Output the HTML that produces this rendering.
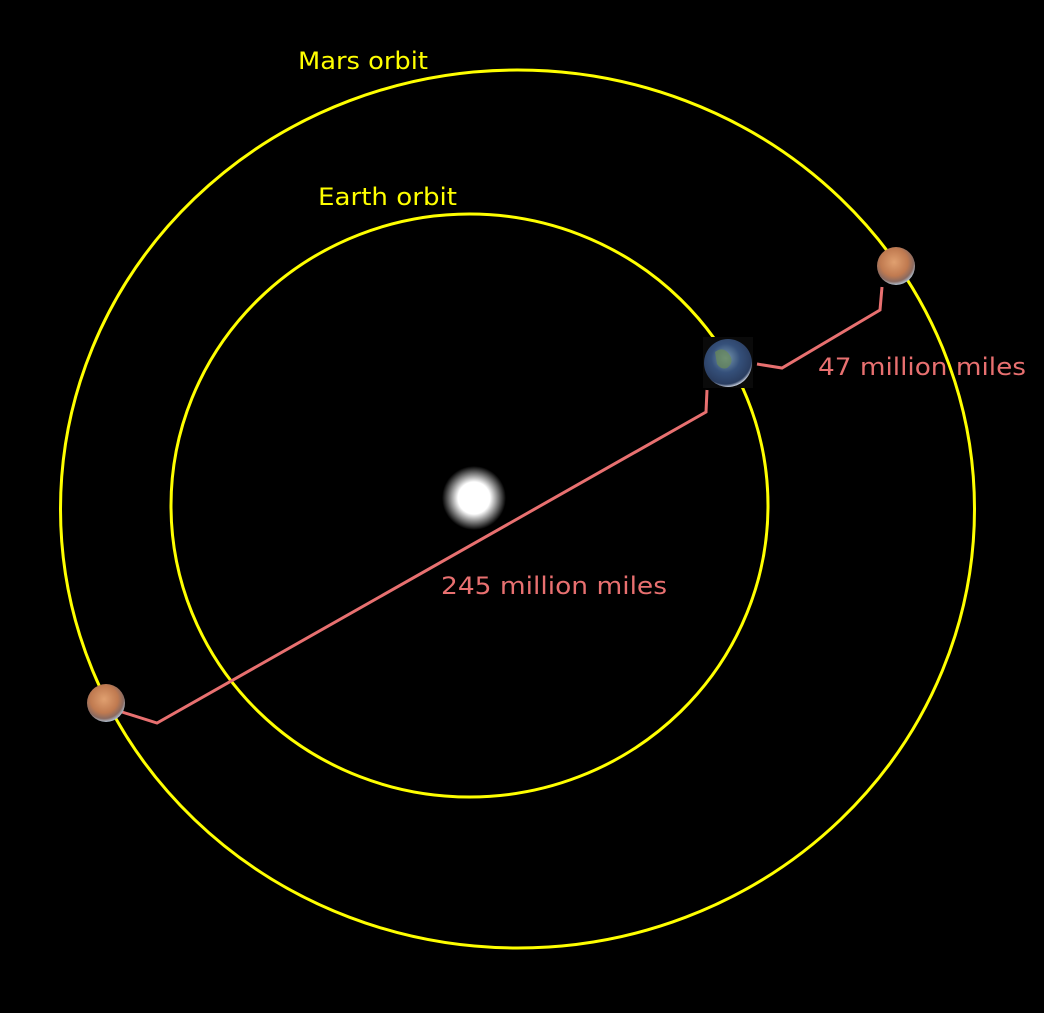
<!DOCTYPE html>
<html><head><meta charset="utf-8"><style>
html,body{margin:0;padding:0;background:#000;}
svg{display:block;}
text{font-family:"DejaVu Sans","Liberation Sans",sans-serif;font-size:24px;}
</style></head><body>
<svg width="1044" height="1013" viewBox="0 0 1044 1013">
<defs>
<radialGradient id="sun" cx="50%" cy="50%" r="50%">
<stop offset="0" stop-color="#fff"/><stop offset="0.5" stop-color="#fff"/><stop offset="1" stop-color="#fff" stop-opacity="0"/>
</radialGradient>
<radialGradient id="mars" cx="45%" cy="40%" r="60%">
<stop offset="0" stop-color="#e0a070"/><stop offset="0.6" stop-color="#c07a50"/><stop offset="0.85" stop-color="#8a6a60"/><stop offset="1" stop-color="#b0c0d0"/>
</radialGradient>
<radialGradient id="earth" cx="45%" cy="40%" r="60%">
<stop offset="0" stop-color="#7a9ab0"/><stop offset="0.5" stop-color="#35507a"/><stop offset="0.9" stop-color="#2a3d60"/><stop offset="1" stop-color="#c0c8d8"/>
</radialGradient>
</defs>
<rect width="1044" height="1013" fill="#000"/>
<ellipse cx="517.5" cy="509" rx="457" ry="439" fill="none" stroke="#ffff00" stroke-width="3"/>
<ellipse cx="469.5" cy="505.5" rx="298.5" ry="291.5" fill="none" stroke="#ffff00" stroke-width="3"/>
<circle cx="474" cy="498" r="32" fill="url(#sun)"/>
<polyline points="122,712 157,723 706,412 707,390" fill="none" stroke="#e87070" stroke-width="3"/>
<polyline points="757,364 782,368 880,310 882,287" fill="none" stroke="#e87070" stroke-width="3"/>
<rect x="703" y="337" width="50" height="51" fill="#0a0a0a"/>
<circle cx="728" cy="363" r="24" fill="url(#earth)"/>
<path d="M715 352 q8 -6 14 2 q6 8 -2 14 q-6 2 -10 -4z" fill="#6a8a55" opacity="0.7"/>
<circle cx="896" cy="266" r="19" fill="url(#mars)"/>
<circle cx="106" cy="703" r="19" fill="url(#mars)"/>
<text x="298" y="69" fill="#ffff00" textLength="130" lengthAdjust="spacingAndGlyphs">Mars orbit</text>
<text x="318" y="205" fill="#ffff00" textLength="139" lengthAdjust="spacingAndGlyphs">Earth orbit</text>
<text x="818" y="375" fill="#e87070" textLength="208" lengthAdjust="spacingAndGlyphs">47 million miles</text>
<text x="441" y="594" fill="#e87070" textLength="226" lengthAdjust="spacingAndGlyphs">245 million miles</text>
</svg>
</body></html>
